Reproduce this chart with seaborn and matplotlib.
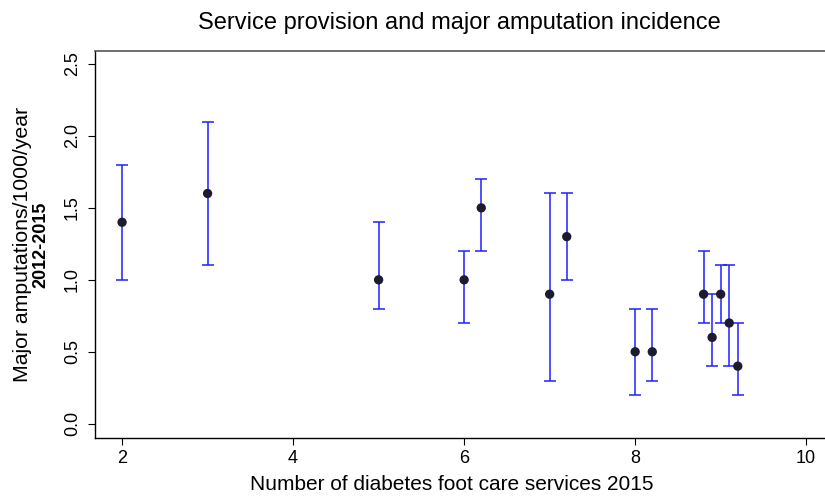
import matplotlib
matplotlib.use("Agg")
import matplotlib.pyplot as plt
import seaborn as sns
import pandas as pd

# Datos
servicios = [2, 3, 5, 6, 6.2, 7, 7.2, 8, 8.2, 8.8, 8.9, 9.0, 9.1, 9.2]
incidencia = [1.4, 1.6, 1.0, 1.0, 1.5, 0.9, 1.3, 0.5, 0.5, 0.9, 0.6, 0.9, 0.7, 0.4]
inferior = [1.0, 1.1, 0.8, 0.7, 1.2, 0.3, 1.0, 0.2, 0.3, 0.7, 0.4, 0.7, 0.4, 0.2]
superior = [1.8, 2.1, 1.4, 1.2, 1.7, 1.6, 1.6, 0.8, 0.8, 1.2, 0.9, 1.1, 1.1, 0.7]
ticks_y = ["0.0", "0.5", "1.0", "1.5", "2.0", "2.5"]

df = pd.DataFrame({"x": servicios, "y": incidencia, "lo": inferior, "hi": superior})

sns.set_style("white")
plt.rcParams["font.family"] = ["Liberation Sans", "DejaVu Sans"]
plt.rcParams["text.color"] = "black"

fig = plt.figure(figsize=(8.25, 4.97), dpi=100)
ax = fig.add_axes([0.1148, 0.1193, 0.8852, 0.7781])

ax.errorbar(df["x"], df["y"], yerr=[df["y"] - df["lo"], df["hi"] - df["y"]],
            fmt="none", ecolor="#1f1fff", elinewidth=1.1, capsize=4, capthick=1.1, zorder=2)
sns.scatterplot(data=df, x="x", y="y", ax=ax, color="#1c1c2e", s=45,
                edgecolor="none", zorder=3, legend=False)

ax.set_xlim(1.68, 10.22)
ax.set_ylim(-0.097, 2.59)
ax.set_xticks([2, 4, 6, 8, 10])
ax.set_yticks([float(t) for t in ticks_y])
ax.set_yticklabels(ticks_y, rotation=90, va="center")
ax.tick_params(axis="both", direction="out", length=5, width=0.8, labelsize=13,
               left=True, bottom=True, colors="black")
ax.tick_params(axis="x", pad=4)
ax.tick_params(axis="y", pad=5)

for lado in ["left", "bottom"]:
    ax.spines[lado].set_color("black")
    ax.spines[lado].set_linewidth(1.0)
ax.spines["top"].set_color("#555555")
ax.spines["top"].set_linewidth(1.2)
ax.spines["right"].set_visible(False)

ax.set_xlabel("")
ax.set_ylabel("")
fig.text(0.548, 0.026, "Number of diabetes foot care services 2015", fontsize=15,
         va="center", ha="center")
fig.text(0.027, 0.508, "Major amputations/1000/year", rotation=90, fontsize=15.3,
         va="center", ha="center")
fig.text(0.049, 0.508, "2012-2015", rotation=90, fontsize=13, fontweight="bold",
         va="center", ha="center")
fig.text(0.557, 0.953, "Service provision and major amputation incidence", fontsize=17,
         va="center", ha="center")

plt.savefig("out.png", dpi=100)
plt.close()
